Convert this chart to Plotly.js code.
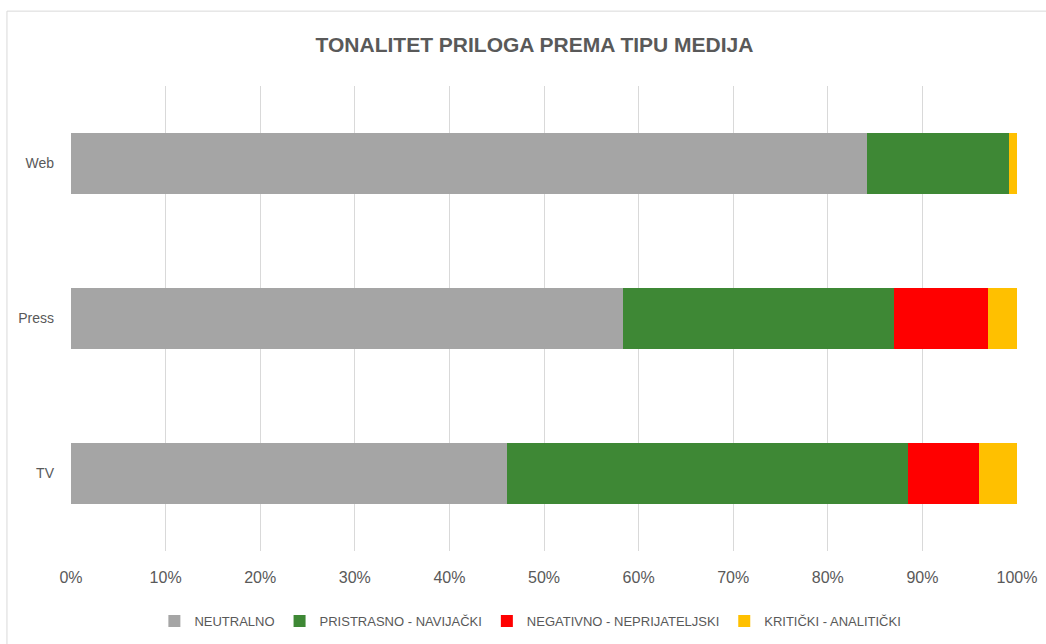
<!DOCTYPE html>
<html>
<head>
<meta charset="utf-8">
<script src="https://cdn.plot.ly/plotly-3.0.1.min.js"></script>
<style>html,body{margin:0;padding:0;background:#fff;}#chart{width:1046px;height:644px;}</style>
</head>
<body>
<div id="chart"></div>
<script>
var categories = ['TV', 'Press', 'Web'];
var seriesNames = ['NEUTRALNO', 'PRISTRASNO - NAVIJAČKI', 'NEGATIVNO - NEPRIJATELJSKI', 'KRITIČKI - ANALITIČKI'];
var neutralno = [46.1, 58.3, 84.1];
var pristrasno = [42.4, 28.7, 15.1];
var negativno = [7.5, 9.9, 0];
var kriticki = [4.0, 3.1, 0.8];
var xTicks = [0, 10, 20, 30, 40, 50, 60, 70, 80, 90, 100];
var colors = ['#A5A5A5', '#3E8835', '#FF0000', '#FFC000'];

var values = [neutralno, pristrasno, negativno, kriticki];
var font = 'Liberation Sans Narrow, Arial Narrow, Liberation Sans, sans-serif';
var traces = values.map(function (v, i) {
  return {
    type: 'bar', orientation: 'h', name: seriesNames[i],
    y: categories, x: v,
    marker: {color: colors[i], line: {width: 0}},
    hoverinfo: 'x+name'
  };
});

var layout = {
  width: 1046, height: 644,
  paper_bgcolor: '#fff', plot_bgcolor: '#fff',
  barmode: 'stack', bargap: 0.606,
  margin: {l: 71, r: 29, t: 86, b: 93, autoexpand: false},
  font: {family: font, color: '#595959', size: 16},
  title: {text: '<b>TONALITET PRILOGA PREMA TIPU MEDIJA</b>', x: 0.511, xref: 'container', xanchor: 'center',
          y: 0.930, yref: 'container', yanchor: 'middle',
          font: {family: font, size: 21, color: '#595959'}},
  xaxis: {range: [0, 100], tickvals: xTicks, ticktext: xTicks.map(function (t) { return t + '%'; }),
          showgrid: true, gridcolor: '#D9D9D9', gridwidth: 1, zeroline: false, showline: false,
          ticks: '', ticklabelstandoff: 15, tickfont: {size: 16, color: '#595959'}, fixedrange: true},
  yaxis: {showgrid: false, zeroline: false, showline: false, ticks: '', ticklabelstandoff: 16,
          tickfont: {size: 14, color: '#595959'}, fixedrange: true},
  legend: {orientation: 'h', x: 0.4856, xanchor: 'center', y: 0.0357, yref: 'container', yanchor: 'middle',
           font: {size: 13, color: '#595959'}, traceorder: 'normal', itemwidth: 30},
  showlegend: true,
  shapes: [{type: 'rect', xref: 'paper', yref: 'paper', x0: -0.0677, x1: 1.2, y0: -0.5, y1: 1.161,
            line: {color: '#D9D9D9', width: 1}, fillcolor: 'rgba(0,0,0,0)', layer: 'below'}]
};

Plotly.newPlot('chart', traces, layout, {displayModeBar: false, staticPlot: true});
</script>
</body>
</html>
